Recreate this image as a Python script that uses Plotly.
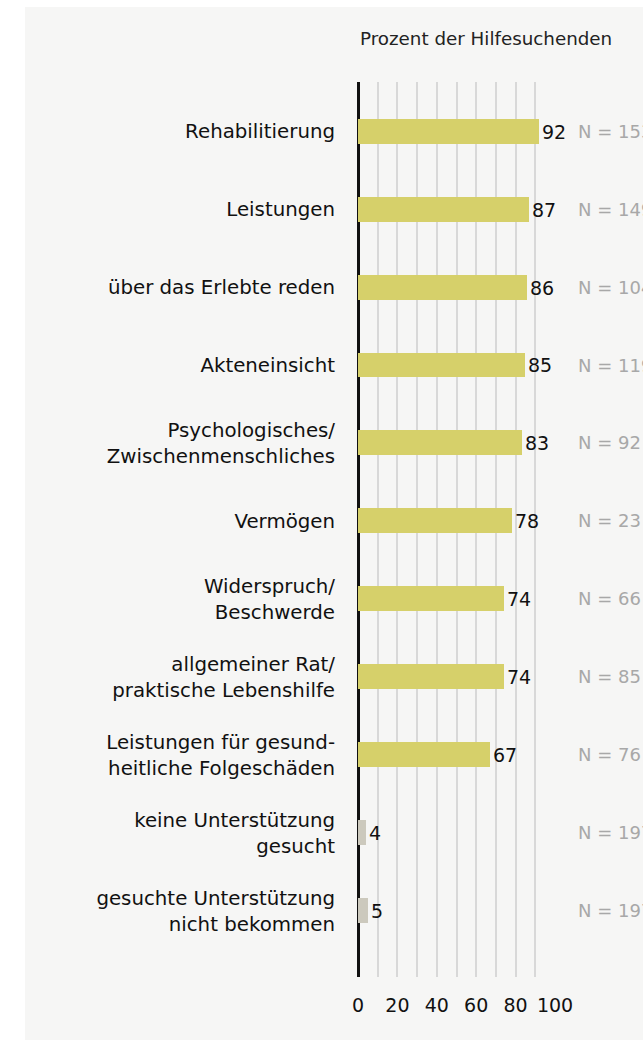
import plotly.graph_objects as go

categories = [
    "Rehabilitierung",
    "Leistungen",
    "über das Erlebte reden",
    "Akteneinsicht",
    "Psychologisches/<br>Zwischenmenschliches",
    "Vermögen",
    "Widerspruch/<br>Beschwerde",
    "allgemeiner Rat/<br>praktische Lebenshilfe",
    "Leistungen für gesund-<br>heitliche Folgeschäden",
    "keine Unterstützung<br>gesucht",
    "gesuchte Unterstützung<br>nicht bekommen",
]
values = [92, 87, 86, 85, 83, 78, 74, 74, 67, 4, 5]
n_labels = ["N = 153", "N = 149", "N = 104", "N = 119", "N = 92", "N = 23",
            "N = 66", "N = 85", "N = 76", "N = 197", "N = 197"]
bar_colors = ["#d6d06a"] * 9 + ["#ccc9bd"] * 2
x_tickvals = [0, 10, 20, 30, 40, 50, 60, 70, 80, 90, 100]
x_ticktext = ["0", "", "20", "", "40", "", "60", "", "80", "", "100"]
axis_title = "Prozent der Hilfesuchenden"

FONT = "DejaVu Sans"
W, H = 643, 1044
ML, MR, MT, MB = 358, 88, 82, 67
PW, PH = W - ML - MR, H - MT - MB

ypos = list(range(len(categories)))

fig = go.Figure()
fig.add_trace(go.Bar(
    x=values, y=ypos, orientation="h",
    marker=dict(color=bar_colors, line=dict(width=0)),
    width=0.32,
    text=[str(v) for v in values], textposition="outside",
    textfont=dict(family=FONT, size=19, color="#111111"),
    cliponaxis=False, hoverinfo="skip",
))

for yi, nl in zip(ypos, n_labels):
    fig.add_annotation(x=(576 - ML) / PW, y=yi, xref="paper", yref="y", text=nl,
                       showarrow=False, xanchor="left", yanchor="middle",
                       font=dict(family=FONT, size=18, color="#a8a8a8"))

fig.add_annotation(x=0, y=(MT + PH - 38) / PH, xref="paper", yref="paper",
                   yanchor="middle", xanchor="left",
                   text=axis_title, showarrow=False,
                   font=dict(family=FONT, size=18.3, color="#222222"))

fig.add_shape(type="rect", xref="paper", yref="paper", layer="below",
              x0=(25 - ML) / PW, x1=2, y0=(MT + PH - 1040) / PH,
              y1=(MT + PH - 7) / PH,
              fillcolor="#f6f6f5", line=dict(width=0))

fig.update_layout(
    width=W, height=H,
    margin=dict(l=ML, r=MR, t=MT, b=MB, autoexpand=False),
    paper_bgcolor="white", plot_bgcolor="#f6f6f5",
    showlegend=False, bargap=0,
    font=dict(family=FONT, size=19, color="#111111"),
    xaxis=dict(range=[0, 100], tickvals=x_tickvals, ticktext=x_ticktext,
               showgrid=True, gridcolor="#d8d8d8", gridwidth=1.5,
               zeroline=True, zerolinecolor="#111111", zerolinewidth=2.5,
               showline=False, ticks="outside", ticklen=11,
               tickcolor="rgba(0,0,0,0)",
               tickfont=dict(family=FONT, size=19, color="#111111"),
               fixedrange=True),
    yaxis=dict(range=[10.85, -0.63], tickvals=ypos, ticktext=categories,
               showgrid=False, zeroline=False, showline=False,
               ticks="outside", ticklen=18, tickcolor="rgba(0,0,0,0)",
               tickfont=dict(family=FONT, size=19.8, color="#111111"),
               fixedrange=True),
)

fig.write_html(
    "out.html",
    config={"displayModeBar": False},
    post_script="document.body.style.margin='0';document.body.style.overflow='hidden';",
)
